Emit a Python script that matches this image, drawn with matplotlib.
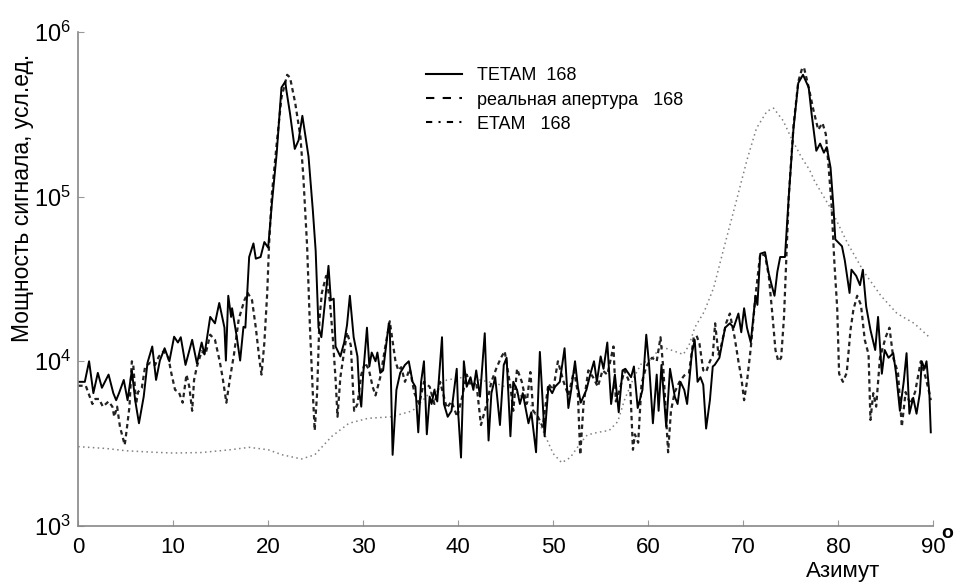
import numpy as np
import matplotlib.pyplot as plt
from matplotlib.lines import Line2D

plt.rcParams['font.family'] = ['Liberation Sans', 'DejaVu Sans']
plt.rcParams['mathtext.default'] = 'regular'

# (azimuth deg, signal power)
tetam = [
    (0.0, 7500), (0.7, 7500), (1.15, 10000), (1.6, 6400), (2.07, 8500), (2.5, 6900),
    (3.2, 8300), (3.7, 6400), (4.0, 5800), (4.3, 6400), (4.8, 7700), (5.2, 5800),
    (5.65, 8800), (6.0, 5800), (6.4, 4200), (6.9, 6100), (7.3, 9800), (7.8, 12300),
    (8.2, 7700), (8.6, 10100), (9.1, 12000), (9.6, 10000), (10.1, 14100), (10.5, 13000),
    (10.8, 14000), (11.3, 9500), (12.0, 13500), (12.5, 9700), (13.0, 13000), (13.3, 11000),
    (13.9, 18600), (14.4, 17000), (14.85, 22600), (15.4, 16000), (15.55, 10100), (15.8, 25000),
    (16.1, 18600), (16.2, 21000), (16.7, 14000), (17.05, 10100), (17.4, 16200), (17.6, 16000),
    (18.0, 43000), (18.45, 52000), (18.7, 42000), (19.2, 43000), (19.6, 53000), (20.0, 49000),
    (20.4, 92000), (20.9, 184000), (21.4, 460000), (21.8, 500000), (21.9, 450000), (22.3, 320000),
    (22.8, 195000), (23.2, 220000), (23.6, 310000), (24.25, 175000), (24.7, 83000), (25.0, 47000),
    (25.3, 16000), (25.6, 14000), (26.0, 23500), (26.35, 38000), (26.6, 23500), (26.9, 24000),
    (27.1, 12300), (27.6, 10700), (28.0, 13000), (28.3, 16600), (28.6, 25000), (29.0, 14000),
    (29.4, 10700), (29.6, 6400), (29.8, 5300), (30.0, 8300), (30.4, 16000), (30.65, 9300),
    (30.9, 11300), (31.3, 10000), (31.5, 11300), (31.8, 8500), (32.1, 8800), (32.4, 12300),
    (32.7, 17000), (32.8, 16000), (33.1, 2700), (33.5, 6700), (33.9, 8500), (34.4, 9500),
    (34.8, 10000), (35.2, 7500), (35.5, 7000), (35.8, 3700), (36.1, 7500), (36.4, 10000),
    (36.7, 3600), (37.0, 6100), (37.2, 5500), (37.5, 6700), (37.8, 5700), (38.3, 14000),
    (38.5, 5500), (38.9, 4600), (39.3, 5000), (39.85, 9000), (40.0, 4900), (40.3, 2600),
    (40.6, 10000), (40.9, 7000), (41.3, 8000), (41.6, 6700), (41.9, 8800), (42.3, 6100),
    (42.8, 14800), (43.2, 3300), (43.5, 6400), (43.9, 8000), (44.4, 4100), (44.8, 9500),
    (45.1, 10500), (45.5, 3500), (45.8, 7500), (46.2, 6700), (46.5, 5500), (46.8, 6400),
    (47.4, 4200), (47.7, 4900), (48.2, 2800), (48.6, 11400), (49.1, 3500), (49.5, 7000),
    (49.9, 6400), (50.2, 7000), (50.7, 7500), (51.2, 12000), (51.6, 5200), (51.9, 6700),
    (52.3, 10000), (52.6, 7000), (52.9, 5600), (53.5, 6700), (53.9, 8300), (54.3, 10000),
    (54.6, 7500), (55.0, 10700), (55.3, 9000), (55.7, 13000), (56.1, 5500), (56.5, 8300),
    (56.9, 4900), (57.3, 8800), (57.6, 9000), (58.2, 8000), (58.5, 9300), (58.9, 5200),
    (59.4, 6700), (59.8, 14500), (60.1, 9500), (60.5, 4200), (60.9, 8300), (61.1, 5000),
    (61.4, 9500), (61.9, 4000), (62.3, 9000), (62.8, 6100), (63.1, 5500), (63.4, 7500),
    (63.8, 6700), (64.1, 5500), (64.6, 11200), (64.9, 13500), (65.2, 7500), (65.5, 8000),
    (65.8, 7200), (66.1, 3900), (66.5, 5800), (66.8, 9300), (67.0, 9500), (67.5, 10500),
    (68.1, 16000), (68.6, 17000), (69.0, 16000), (69.5, 19500), (69.8, 15000), (70.1, 21000),
    (70.4, 16000), (70.8, 13000), (71.3, 25000), (71.5, 22000), (71.8, 45000), (72.3, 46000),
    (72.7, 34000), (73.0, 29000), (73.3, 25000), (73.6, 35000), (73.9, 43000), (74.4, 43000),
    (74.8, 100000), (75.3, 260000), (75.8, 490000), (76.3, 550000), (76.9, 460000), (77.2, 320000),
    (77.7, 190000), (78.1, 210000), (78.5, 185000), (78.8, 200000), (79.2, 150000), (79.5, 87000),
    (79.7, 55000), (80.4, 50000), (80.7, 41000), (81.2, 26000), (81.4, 36000), (81.9, 33000),
    (82.3, 29000), (82.6, 36000), (82.95, 21500), (83.4, 15500), (83.9, 11700), (84.2, 18600),
    (84.6, 8400), (84.9, 11700), (85.3, 10500), (85.8, 11200), (86.1, 8400), (86.5, 5000),
    (86.9, 7500), (87.2, 11200), (87.5, 4800), (87.9, 6000), (88.25, 4800), (88.6, 6400),
    (88.8, 10000), (89.1, 9000), (89.3, 10000), (89.6, 6400), (89.75, 3700),
]

aperture = [
    (0.0, 7100), (0.8, 7100), (1.5, 5500), (1.8, 5900), (2.2, 5900), (2.6, 5300),
    (3.2, 5700), (3.6, 5300), (3.8, 4600), (4.1, 5300), (4.4, 4000), (4.9, 3100),
    (5.1, 3800), (5.4, 5300), (5.65, 10000), (5.8, 9500), (6.1, 5500), (6.3, 6500),
    (6.7, 6900), (7.05, 9300), (7.6, 9800), (8.1, 9500), (8.5, 10700), (9.0, 11500),
    (9.5, 10500), (9.8, 8500), (10.2, 6700), (10.6, 6500), (11.0, 5600), (11.4, 8300),
    (11.7, 7000), (12.0, 5000), (12.2, 7700), (12.5, 9300), (13.0, 11500), (13.4, 11000),
    (13.9, 14500), (14.4, 13500), (14.9, 10000), (15.2, 8000), (15.6, 5600), (16.0, 8000),
    (16.4, 11000), (16.9, 18000), (17.5, 23500), (17.85, 26000), (18.3, 23500), (18.7, 16000),
    (19.1, 10000), (19.3, 8300), (19.6, 13000), (19.9, 26000), (20.1, 52000), (20.4, 105000),
    (20.9, 210000), (21.4, 400000), (22.0, 550000), (22.3, 530000), (22.85, 370000), (23.4, 230000),
    (23.7, 133000), (24.1, 50000), (24.4, 16000), (24.7, 6400), (24.9, 3800), (25.15, 6400),
    (25.4, 18000), (25.65, 26000), (26.1, 33000), (26.5, 23000), (26.8, 14000), (27.1, 7700),
    (27.3, 4600), (27.6, 8000), (28.0, 11500), (28.3, 15000), (28.7, 12500), (29.05, 5000),
    (29.4, 5500), (29.8, 8300), (30.2, 9800), (30.6, 8900), (31.0, 7000), (31.3, 6200),
    (31.8, 8000), (32.3, 12000), (32.8, 17500), (33.0, 14500), (33.4, 10000), (33.7, 8800),
    (34.0, 9200), (34.4, 7500), (34.9, 9000), (35.4, 6400), (35.9, 5500), (36.4, 7500),
    (37.0, 7000), (37.5, 5500), (38.1, 7500), (38.8, 5200), (39.3, 5700), (39.9, 4600),
    (40.4, 6000), (40.9, 8300), (41.4, 7000), (41.9, 7500), (42.4, 4100), (43.0, 5500),
    (43.5, 7500), (44.0, 9000), (44.5, 10500), (44.9, 11500), (45.5, 7000), (45.8, 5000),
    (46.2, 9000), (46.7, 7500), (47.2, 5500), (47.6, 8600), (47.9, 5000), (48.4, 4600),
    (48.9, 4000), (49.5, 7300), (50.0, 6700), (50.5, 10000), (51.1, 7500), (51.6, 6200),
    (52.2, 8800), (52.6, 6400), (52.85, 2700), (53.2, 5500), (53.7, 8800), (54.2, 8000),
    (54.7, 7000), (55.2, 8800), (55.7, 8300), (56.35, 12300), (56.6, 5700), (57.0, 6700),
    (57.5, 8800), (58.1, 7300), (58.4, 2900), (58.6, 3600), (58.95, 3200), (59.3, 7300),
    (59.8, 9300), (60.4, 10500), (60.9, 10000), (61.3, 14000), (61.6, 9000), (62.1, 2800),
    (62.4, 5000), (62.8, 6500), (63.3, 7500), (63.8, 8200), (64.3, 8500), (64.8, 14000),
    (65.1, 14300), (65.4, 12800), (65.8, 8800), (66.1, 8600), (66.5, 10000), (66.8, 10800),
    (67.05, 17000), (67.4, 11000), (67.7, 12500), (68.2, 17000), (68.6, 19500), (69.1, 14000),
    (69.5, 10000), (69.8, 8000), (70.1, 5800), (70.4, 7500), (70.8, 12000), (71.3, 25000),
    (71.8, 45000), (72.3, 44000), (72.7, 33000), (73.1, 18600), (73.4, 11700), (73.7, 10000),
    (74.0, 10500), (74.3, 18600), (74.5, 37000), (74.8, 100000), (75.3, 270000), (75.8, 500000),
    (76.2, 600000), (76.4, 610000), (76.9, 460000), (77.4, 335000), (77.9, 255000), (78.35, 280000),
    (78.7, 240000), (79.0, 150000), (79.3, 90000), (79.6, 40000), (79.9, 21000), (80.1, 8400),
    (80.5, 7500), (80.9, 8500), (81.3, 15500), (81.6, 20500), (82.0, 25000), (82.4, 22000),
    (82.8, 13500), (83.2, 11000), (83.4, 4400), (83.7, 6400), (84.0, 5300), (84.4, 10500),
    (85.0, 14000), (85.4, 16000), (85.8, 10500), (86.3, 8500), (86.7, 4000), (87.1, 6500),
    (87.6, 5500), (88.1, 6500), (88.7, 10000), (89.2, 8000), (89.6, 6400), (89.75, 5800),
]

etam = [
    (0.0, 3030), (3.0, 2950), (5.0, 2860), (8.0, 2800), (10.0, 2770), (13.0, 2790),
    (16.0, 2900), (18.0, 3000), (20.0, 2900), (21.5, 2700), (23.5, 2550), (24.9, 2700),
    (26.7, 3500), (28.5, 4200), (30.5, 4500), (33.0, 4600), (35.2, 5000), (37.0, 6400),
    (38.8, 7700), (40.6, 8000), (42.3, 7700), (44.1, 7300), (45.8, 6700), (47.6, 5500),
    (49.0, 3700), (50.0, 2750), (50.9, 2420), (51.8, 2600), (52.9, 3200), (53.6, 3570),
    (54.7, 3700), (55.9, 3800), (56.8, 4300), (57.5, 5800), (58.5, 8000), (59.3, 9700),
    (60.4, 10300), (61.3, 12300), (62.6, 11600), (63.7, 11000), (64.3, 12500), (64.9, 16000),
    (65.9, 20000), (66.9, 28000), (67.9, 47000), (69.3, 95000), (70.4, 167000), (71.4, 260000),
    (72.5, 330000), (73.2, 345000), (74.2, 290000), (75.1, 225000), (76.1, 175000), (77.0, 145000),
    (77.5, 125000), (79.2, 85000), (81.0, 52000), (82.7, 35000), (84.5, 25000), (86.2, 19500),
    (88.0, 17000), (89.6, 14000),
]

legend_labels = ['TETAM  168', 'реальная апертура   168', 'ETAM   168']
x_ticks = [0, 10, 20, 30, 40, 50, 60, 70, 80, 90]
y_ticks = [1e3, 1e4, 1e5, 1e6]

fig = plt.figure(figsize=(9.65, 5.83), dpi=100)
ax = fig.add_axes([0.081, 0.098, 0.886, 0.847])

az, pw = zip(*etam)
ax.plot(az, pw, color='#808080', lw=1.1, linestyle=(0, (1, 2.2)))
az, pw = zip(*aperture)
ax.plot(az, pw, color='#222222', lw=1.6, linestyle=(0, (2, 1.6)))
az, pw = zip(*tetam)
ax.plot(az, pw, color='black', lw=1.4)

ax.set_yscale('log')
ax.set_xlim(0, 90)
ax.set_ylim(1e3, 1e6)
ax.set_xticks(x_ticks)
ax.set_yticks(y_ticks)
ax.minorticks_off()
ax.tick_params(direction='in', length=4, color='#999999', labelsize=16)
ax.tick_params(axis='x', pad=8)
ax.tick_params(axis='y', pad=5, labelsize=17)

for side in ['top', 'right']:
    ax.spines[side].set_visible(False)
for side in ['left', 'bottom']:
    ax.spines[side].set_color('#888888')
    ax.spines[side].set_linewidth(1.2)

fig.text(0.023, 0.66, 'Мощность сигнала, усл.ед.', rotation=90,
         ha='center', va='center', fontsize=16.5)
fig.text(0.874, 0.02, 'Азимут', ha='center', va='center', fontsize=16)
fig.text(0.982, 0.085, 'o', ha='center', va='center', fontsize=14, fontweight='bold')

handles = [
    Line2D([], [], color='black', lw=1.5),
    Line2D([], [], color='black', lw=1.5, linestyle=(0, (4, 4))),
    Line2D([], [], color='black', lw=1.5, linestyle=(0, (3, 3, 1, 3))),
]
fig.legend(handles, legend_labels, loc='upper left', bbox_to_anchor=(0.432, 0.9),
           frameon=False, fontsize=13, handlelength=2.0, handletextpad=0.85,
           labelspacing=0.4, borderpad=0)

fig.savefig('out.png', dpi=100)
